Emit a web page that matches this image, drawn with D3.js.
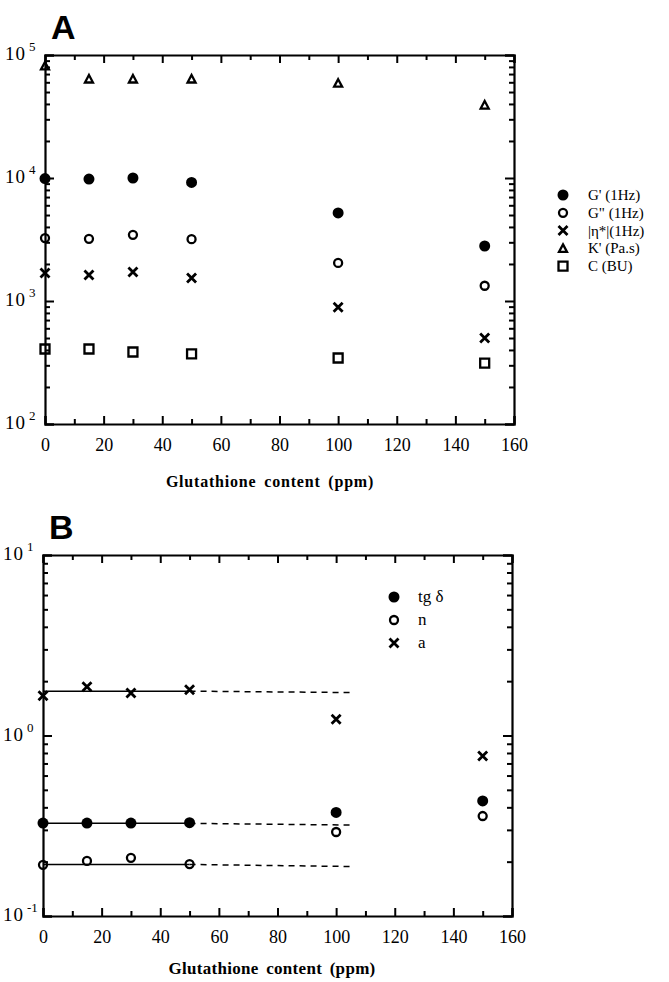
<!DOCTYPE html>
<html>
<head>
<meta charset="utf-8">
<script src="https://cdn.jsdelivr.net/npm/d3@7"></script>
<style>
  body { margin: 0; background: #fff; }
  svg { display: block; }
</style>
</head>
<body>
<div id="chart"></div>
<script>
// glutathione content (ppm)
var xVals = [0, 15, 30, 50, 100, 150];

// panel A
var gPrime = [9900, 9800, 10000, 9200, 5200, 2800];
var gDouble = [3250, 3200, 3450, 3180, 2040, 1330];
var etaStar = [1690, 1630, 1720, 1540, 890, 500];
var kPrime = [81500, 63800, 63800, 63800, 59000, 39200];
var cBU = [407, 407, 385, 371, 344, 313];
var labelsA = ["G' (1Hz)", "G\" (1Hz)", "|\u03b7*|(1Hz)", "K' (Pa.s)", "C (BU)"];

// panel B
var tgDelta = [0.327, 0.327, 0.327, 0.329, 0.375, 0.434];
var nIndex = [0.192, 0.202, 0.21, 0.194, 0.292, 0.358];
var aIndex = [1.66, 1.86, 1.72, 1.79, 1.23, 0.77];
var labelsB = ["tg \u03b4", "n", "a"];

// fitted lines (solid 0-50, dashed 50-105)
var fitX = [0, 50, 105];
var tgFit = [0.326, 0.326, 0.319];
var nFit = [0.193, 0.193, 0.188];
var aFit = [1.76, 1.76, 1.73];

var xTicks = [0, 20, 40, 60, 80, 100, 120, 140, 160];

var serif = "'Liberation Serif', 'DejaVu Serif', serif";

var svg = d3.select("#chart").append("svg")
    .attr("width", 669)
    .attr("height", 982);

// symbol path generators
function symbolPath(type, x, y) {
    if (type === "filled" || type === "open") {
        var r = type === "filled" ? 5.5 : 4;
        return "M" + (x - r) + "," + y + "a" + r + "," + r + " 0 1,0 " + (2 * r) + ",0a" + r + "," + r + " 0 1,0 " + (-2 * r) + ",0Z";
    }
    if (type === "cross") {
        var s = 4.5;
        return "M" + (x - s) + "," + (y - s) + "L" + (x + s) + "," + (y + s) +
            "M" + (x - s) + "," + (y + s) + "L" + (x + s) + "," + (y - s);
    }
    if (type === "triangle") {
        return "M" + x + "," + (y - 4) + "L" + (x + 4) + "," + (y + 3.5) + "L" + (x - 4) + "," + (y + 3.5) + "Z";
    }
    if (type === "square") {
        return "M" + (x - 4.5) + "," + (y - 4.5) + "h9v9h-9Z";
    }
}

function styleSymbol(sel, type) {
    sel.attr("fill", type === "filled" ? "#000" : "none")
        .attr("stroke", "#000")
        .attr("stroke-width", type === "cross" ? 2.8 : (type === "filled" ? 0 : 2.3));
}

function drawPanel(opts) {
    var x = d3.scaleLinear().domain([0, 160]).range([opts.left, opts.right]);
    var y = d3.scaleLog().domain(opts.yDomain).range([opts.bottom, opts.top]);

    var g = svg.append("g");

    var decades = [];
    var minors = [];
    var lo = Math.round(Math.log10(opts.yDomain[0]));
    var hi = Math.round(Math.log10(opts.yDomain[1]));
    for (var e = lo; e <= hi; e++) {
        decades.push(Math.pow(10, e));
        if (e < hi) {
            for (var m = 2; m <= 9; m++) minors.push(m * Math.pow(10, e));
        }
    }
    var xMinor = d3.range(10, 160, 20);

    // bottom axis
    g.append("g")
        .attr("transform", "translate(0," + opts.bottom + ")")
        .call(d3.axisBottom(x).tickValues(xTicks).tickSize(-8).tickPadding(14).tickFormat(d3.format("d")))
        .call(function (a) {
            a.attr("font-family", serif).attr("font-size", 18);
            a.select(".domain").attr("stroke-width", 2.2);
            a.selectAll(".tick line").attr("stroke-width", 2);
            a.selectAll("text").style("font-family", serif).style("font-size", "18px").attr("fill", "#000");
        });
    g.append("g")
        .attr("transform", "translate(0," + opts.bottom + ")")
        .call(d3.axisBottom(x).tickValues(xMinor).tickSize(-5).tickFormat(""))
        .call(function (a) {
            a.select(".domain").remove();
            a.selectAll(".tick line").attr("stroke-width", 2);
        });

    // top axis
    g.append("g")
        .attr("transform", "translate(0," + opts.top + ")")
        .call(d3.axisTop(x).tickValues(xTicks).tickSize(-8).tickFormat(""))
        .call(function (a) {
            a.select(".domain").attr("stroke-width", 2.2);
            a.selectAll(".tick line").attr("stroke-width", 2);
        });
    g.append("g")
        .attr("transform", "translate(0," + opts.top + ")")
        .call(d3.axisTop(x).tickValues(xMinor).tickSize(-5).tickFormat(""))
        .call(function (a) {
            a.select(".domain").remove();
            a.selectAll(".tick line").attr("stroke-width", 2);
        });

    // left and right axes
    [["left", opts.left, d3.axisLeft], ["right", opts.right, d3.axisRight]].forEach(function (side) {
        g.append("g")
            .attr("transform", "translate(" + side[1] + ",0)")
            .call(side[2](y).tickValues(decades).tickSize(-9).tickFormat(""))
            .call(function (a) {
                a.select(".domain").attr("stroke-width", 2.2);
                a.selectAll(".tick line").attr("stroke-width", 2);
            });
        g.append("g")
            .attr("transform", "translate(" + side[1] + ",0)")
            .call(side[2](y).tickValues(minors).tickSize(-5).tickFormat(""))
            .call(function (a) {
                a.select(".domain").remove();
                a.selectAll(".tick line").attr("stroke-width", 2);
            });
    });

    // y labels 10^n
    var lab = g.selectAll(".ylab")
        .data(decades)
        .enter()
        .append("text")
        .attr("class", "ylab")
        .attr("x", opts.left - 40)
        .attr("y", function (d) { return y(d) + 5; })
        .style("font-family", serif)
        .style("font-size", "19px");
    lab.append("tspan").style("letter-spacing", "1px").text("10");
    lab.append("tspan")
        .attr("dx", 3)
        .attr("dy", -9)
        .style("font-size", "13px")
        .text(function (d) { return Math.round(Math.log10(d)); });

    // panel letter
    g.append("text")
        .attr("x", opts.left + 6)
        .attr("y", opts.top - 16)
        .style("font-family", "'Liberation Sans', sans-serif")
        .style("font-weight", "bold")
        .style("font-size", "34px")
        .text(opts.letter);

    // x title
    g.append("text")
        .attr("x", opts.titleX)
        .attr("y", opts.bottom + opts.titleDy)
        .attr("text-anchor", "middle")
        .style("font-family", serif)
        .style("font-weight", "bold")
        .style("font-size", opts.titleSize + "px")
        .style("letter-spacing", opts.titleSpacing + "px")
        .style("word-spacing", "3px")
        .text("Glutathione content (ppm)");

    // fit lines
    (opts.fits || []).forEach(function (f) {
        var pts = fitX.map(function (xv, i) { return [x(xv), y(f[i])]; });
        g.append("line")
            .attr("x1", pts[0][0]).attr("y1", pts[0][1])
            .attr("x2", pts[1][0]).attr("y2", pts[1][1])
            .attr("stroke", "#000").attr("stroke-width", 1.5);
        g.append("line")
            .attr("x1", pts[1][0]).attr("y1", pts[1][1])
            .attr("x2", pts[2][0]).attr("y2", pts[2][1])
            .attr("stroke", "#000").attr("stroke-width", 1.5)
            .attr("stroke-dasharray", "6,5");
    });

    // series points
    opts.series.forEach(function (s) {
        g.append("g").selectAll("path")
            .data(s.values)
            .enter()
            .append("path")
            .attr("d", function (d, i) { return symbolPath(s.type, x(xVals[i]), y(d)); })
            .call(styleSymbol, s.type);
    });

    // legend
    var leg = g.append("g");
    opts.series.forEach(function (s, i) {
        var ly = opts.legY + i * opts.legStep;
        leg.append("path")
            .attr("d", symbolPath(s.type, opts.legX, ly))
            .call(styleSymbol, s.type);
        leg.append("text")
            .attr("x", opts.legX + opts.legGap)
            .attr("y", ly + 5)
            .style("font-family", serif)
            .style("font-size", opts.legSize + "px")
            .text(s.label);
    });
}

drawPanel({
    letter: "A",
    left: 45, right: 514, top: 55, bottom: 424,
    yDomain: [100, 100000],
    titleX: 270, titleDy: 63, titleSize: 16, titleSpacing: 0.8,
    legX: 563, legY: 195, legStep: 17.8, legGap: 25, legSize: 15,
    series: [
        { values: gPrime, type: "filled", label: labelsA[0] },
        { values: gDouble, type: "open", label: labelsA[1] },
        { values: etaStar, type: "cross", label: labelsA[2] },
        { values: kPrime, type: "triangle", label: labelsA[3] },
        { values: cBU, type: "square", label: labelsA[4] }
    ]
});

drawPanel({
    letter: "B",
    left: 43, right: 512, top: 555, bottom: 916,
    yDomain: [0.1, 10],
    titleX: 272, titleDy: 58, titleSize: 17, titleSpacing: 0.3,
    legX: 394, legY: 597, legStep: 23, legGap: 24, legSize: 17,
    fits: [tgFit, nFit, aFit],
    series: [
        { values: tgDelta, type: "filled", label: labelsB[0] },
        { values: nIndex, type: "open", label: labelsB[1] },
        { values: aIndex, type: "cross", label: labelsB[2] }
    ]
});
</script>
</body>
</html>
